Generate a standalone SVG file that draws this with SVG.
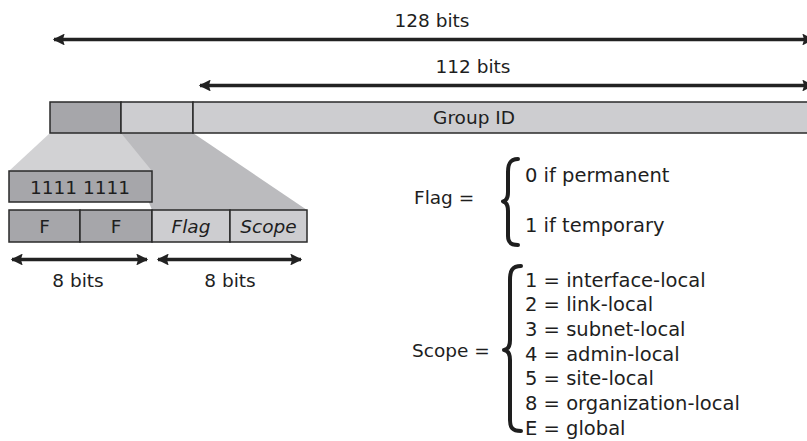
<svg xmlns="http://www.w3.org/2000/svg" width="807" height="441" viewBox="0 0 807 441">
<style>
text{font-family:"DejaVu Sans","Liberation Sans",sans-serif;font-size:18.5px;fill:#1e1e1e}
.c{text-anchor:middle}
.it{font-style:italic}
.lg{font-size:19.5px}
.dark{fill:#a6a6aa;stroke:#2a2a2a;stroke-width:1.5}
.light{fill:#cdcdd0;stroke:#2a2a2a;stroke-width:1.5}
.ln{stroke:#222;stroke-width:3.3;fill:none}
.br{stroke:#1e1e1e;stroke-width:4;fill:none;stroke-linecap:round;stroke-linejoin:round}
</style>
<defs>
<marker id="ah" viewBox="0 0 10 10" refX="9" refY="5" markerWidth="5" markerHeight="3.6" markerUnits="strokeWidth" orient="auto-start-reverse">
<path d="M0,0 L10,5 L0,10 L1.5,5 Z" fill="#222"/>
</marker>
</defs>
<g id="funnels">
<polygon points="121,133 193,133 307,210 152,210" fill="#bbbbbe"/>
<polygon points="50,133 121,133 152,171 9,171" fill="#d2d2d4"/>
</g>
<g id="address">
<rect class="dark" x="50" y="102" width="71" height="31"/>
<rect class="light" x="121" y="102" width="72" height="31"/>
<rect class="light" x="193" y="102" width="620" height="31"/>
<text class="c" x="474" y="124">Group ID</text>
</g>
<g id="prefix">
<rect class="dark" x="9" y="171" width="143" height="31"/>
<text class="c" x="80" y="194">1111 1111</text>
</g>
<g id="fields">
<rect class="dark" x="9" y="210" width="71" height="32"/>
<text class="c" x="44.5" y="233">F</text>
<rect class="dark" x="80" y="210" width="72" height="32"/>
<text class="c" x="116" y="233">F</text>
<rect class="light" x="152" y="210" width="78" height="32"/>
<text class="c it" x="191" y="233">Flag</text>
<rect class="light" x="230" y="210" width="77" height="32"/>
<text class="c it" x="268.5" y="233">Scope</text>
</g>
<g id="connectors">
<line class="ln" x1="54" y1="39.5" x2="813" y2="39.5" marker-start="url(#ah)" marker-end="url(#ah)"/>
<line class="ln" x1="200" y1="85.5" x2="813" y2="85.5" marker-start="url(#ah)" marker-end="url(#ah)"/>
<line class="ln" x1="12" y1="259.5" x2="147" y2="259.5" marker-start="url(#ah)" marker-end="url(#ah)"/>
<line class="ln" x1="158" y1="259.5" x2="301" y2="259.5" marker-start="url(#ah)" marker-end="url(#ah)"/>
</g>
<g id="labels">
<text class="c" x="432" y="27">128 bits</text>
<text class="c" x="473" y="73">112 bits</text>
<text class="c" x="78" y="287">8 bits</text>
<text class="c" x="230" y="287">8 bits</text>
</g>
<g id="flag-legend">
<text x="414" y="204">Flag =</text>
<path class="br" d="M518,159 C510,159 508,164 508,172 L508,192 C508,198 506,201 503,201.5 C506,202 508,205 508,211 L508,236 C508,242 510,245 518,245"/>
<text class="lg" x="525" y="181.7">0 if permanent</text>
<text class="lg" x="525" y="231.7">1 if temporary</text>
</g>
<g id="scope-legend">
<text x="412" y="357">Scope =</text>
<path class="br" d="M521,266 C512,266 510,271 510,280 L510,340 C510,346 508,349.5 504,350 C508,350.5 510,354 510,360 L510,420 C510,427 512,431 521,431"/>
<text class="lg" x="525" y="286.5">1 = interface-local</text>
<text class="lg" x="525" y="311.2">2 = link-local</text>
<text class="lg" x="525" y="335.9">3 = subnet-local</text>
<text class="lg" x="525" y="360.6">4 = admin-local</text>
<text class="lg" x="525" y="385.3">5 = site-local</text>
<text class="lg" x="525" y="410">8 = organization-local</text>
<text class="lg" x="525" y="434.7">E = global</text>
</g>
</svg>
